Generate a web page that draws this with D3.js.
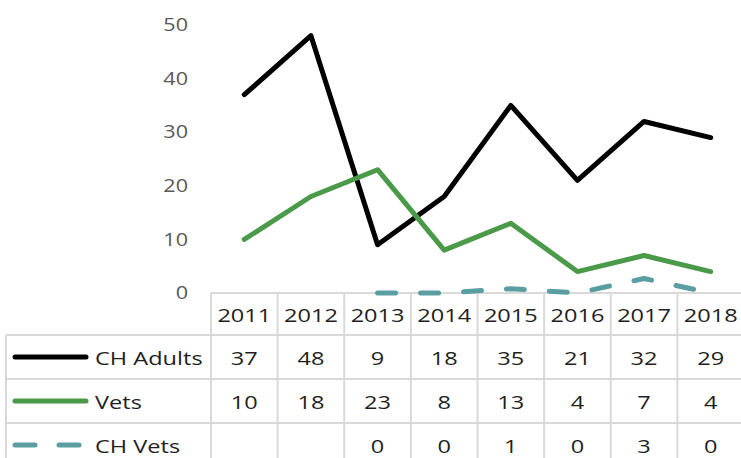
<!DOCTYPE html>
<html>
<head>
<meta charset="utf-8">
<script src="https://cdn.jsdelivr.net/npm/d3@7"></script>
<style>
  body { margin: 0; background: #fff; }
  svg { display: block; }
  text { font-family: "Open Sans", sans-serif; }
</style>
</head>
<body>
<svg></svg>
<script>
// data
const years = ["2011", "2012", "2013", "2014", "2015", "2016", "2017", "2018"];
const chAdults = [37, 48, 9, 18, 35, 21, 32, 29];
const vets = [10, 18, 23, 8, 13, 4, 7, 4];
const chVets = [null, null, 0, 0, 0.8, 0, 2.7, 0];
const seriesNames = ["CH Adults", "Vets", "CH Vets"];
const yTicks = [0, 10, 20, 30, 40, 50];

const w = 741;
const h = 458;
const stretch = 1.24; // the text in the picture is wider than normal

const svg = d3.select("svg")
  .attr("width", w)
  .attr("height", h);

const series = [
  { name: seriesNames[0], values: chAdults, color: "#000000", dash: null },
  { name: seriesNames[1], values: vets, color: "#4a9a4a", dash: null },
  { name: seriesNames[2], values: chVets, color: "#5a9ea2", dash: "18,25" }
];

const xScale = d3.scaleBand()
  .domain(years)
  .range([211, 744]);

const yScale = d3.scaleLinear()
  .domain([0, 50])
  .range([293, 25]);

const rowScale = d3.scaleBand()
  .domain(seriesNames)
  .range([335, 467]);

const cx = (yr) => xScale(yr) + xScale.bandwidth() / 2;

// y axis
const yAxis = d3.axisLeft(yScale)
  .tickValues(yTicks)
  .tickSize(0)
  .tickPadding(23);

const yG = svg.append("g")
  .attr("transform", "translate(211,0)")
  .call(yAxis);
yG.select(".domain").remove();
yG.selectAll("text")
  .attr("fill", "#595959")
  .attr("font-size", "18px")
  .attr("font-family", "Open Sans, sans-serif")
  .attr("transform", (d) => "translate(0," + yScale(d) + ") scale(1.2,1) translate(0," + (-yScale(d)) + ")")
  .attr("x", -23 / 1.2);

// data table grid
const grid = svg.append("g")
  .attr("stroke", "#d9d9d9")
  .attr("stroke-width", 2);

// header row top = plot baseline
grid.append("line")
  .attr("x1", 211).attr("x2", w)
  .attr("y1", yScale(0)).attr("y2", yScale(0));

// row lines
grid.selectAll(".rowline")
  .data(seriesNames)
  .join("line")
  .attr("class", "rowline")
  .attr("x1", 6).attr("x2", w)
  .attr("y1", (d) => rowScale(d)).attr("y2", (d) => rowScale(d));

grid.append("line")
  .attr("x1", 6).attr("x2", 6)
  .attr("y1", rowScale(seriesNames[0])).attr("y2", h);

grid.selectAll(".colline")
  .data(years)
  .join("line")
  .attr("class", "colline")
  .attr("x1", (d) => xScale(d)).attr("x2", (d) => xScale(d))
  .attr("y1", yScale(0)).attr("y2", h);

grid.append("line")
  .attr("x1", xScale.range()[1]).attr("x2", xScale.range()[1])
  .attr("y1", yScale(0)).attr("y2", h);

// table text helper
const cellText = (g, x, y, txt, anchor) => {
  g.append("text")
    .attr("transform", "translate(" + x + "," + y + ") scale(" + stretch + ",1)")
    .attr("text-anchor", anchor)
    .attr("dominant-baseline", "central")
    .attr("font-size", "19px")
    .attr("fill", "#1f1f1f")
    .text(txt);
};

const tbl = svg.append("g");
const headerMid = (yScale(0) + rowScale(seriesNames[0])) / 2;
years.forEach((yr) => cellText(tbl, cx(yr), headerMid, yr, "middle"));

series.forEach((s) => {
  const mid = rowScale(s.name) + rowScale.bandwidth() / 2;
  tbl.append("line")
    .attr("x1", 15).attr("x2", 86)
    .attr("y1", mid).attr("y2", mid)
    .attr("stroke", s.color)
    .attr("stroke-width", 5)
    .attr("stroke-linecap", "round")
    .attr("stroke-dasharray", s.dash ? "20,24" : null);
  cellText(tbl, 95, mid, s.name, "start");
  s.values.forEach((v, i) => {
    if (v !== null) cellText(tbl, cx(years[i]), mid, d3.format(".0f")(v), "middle");
  });
});

// lines
const line = d3.line()
  .defined((d) => d !== null)
  .x((d, i) => cx(years[i]))
  .y((d) => yScale(d));

svg.selectAll(".series")
  .data(series)
  .join("path")
  .attr("class", "series")
  .attr("d", (d) => line(d.values))
  .attr("fill", "none")
  .attr("stroke", (d) => d.color)
  .attr("stroke-width", 5)
  .attr("stroke-linejoin", "round")
  .attr("stroke-linecap", "round")
  .attr("stroke-dasharray", (d) => d.dash);
</script>
</body>
</html>
